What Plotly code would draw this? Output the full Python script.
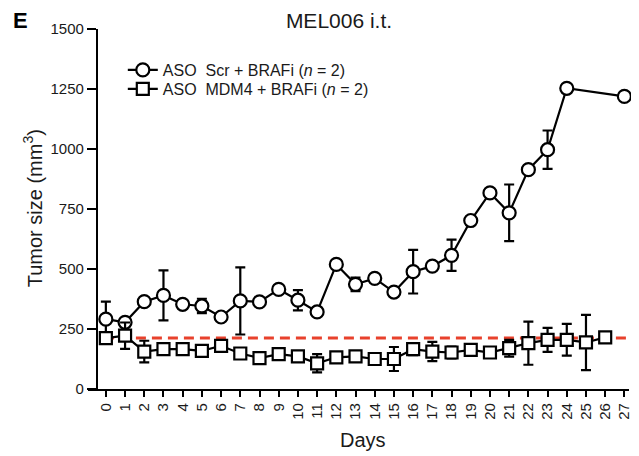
import plotly.graph_objects as go

# ---- data ----
scr_days = [0, 1, 2, 3, 4, 5, 6, 7, 8, 9, 10, 11, 12, 13, 14, 15, 16, 17, 18, 19, 20, 21, 22, 23, 24, 27]
scr_vals = [291, 278, 364, 390, 353, 346, 300, 367, 363, 415, 370, 321, 519, 436, 461, 404, 489, 512, 557, 702, 817, 734, 914, 997, 1253, 1219]
scr_err = [73, 0, 0, 104, 0, 30, 0, 140, 0, 0, 42, 0, 0, 28, 0, 0, 91, 0, 65, 0, 0, 118, 0, 80, 0, 0]

mdm4_days = list(range(0, 27))
mdm4_vals = [212, 222, 156, 166, 166, 159, 180, 148, 129, 145, 136, 107, 132, 136, 125, 125, 166, 156, 152, 163, 152, 170, 191, 205, 205, 194, 215]
mdm4_err = [10, 55, 45, 5, 5, 5, 20, 5, 5, 5, 20, 38, 15, 5, 15, 50, 25, 40, 25, 5, 15, 35, 90, 50, 66, 115, 5]

baseline = 212
x_ticks = list(range(0, 28))
y_ticks = [0, 250, 500, 750, 1000, 1250, 1500]

names = ["ASO\u00a0\u00a0Scr + BRAFi (<i>n</i> = 2)", "ASO\u00a0\u00a0MDM4 + BRAFi (<i>n</i> = 2)"]

FONT = "Liberation Sans, Arial, Helvetica, sans-serif"

# page body has an 8px margin; compensate so screen pixels match the reference
OFF = 8
W, H = 639 - OFF, 456 - OFF
L, R, T, B = 88 - OFF, 632 - OFF, 29 - OFF, 389 - OFF
pw, ph = R - L, B - T

def px_x(x):
    return (x - OFF - L) / pw

def px_y(y):
    return (B - (y - OFF)) / ph

fig = go.Figure()

fig.add_trace(go.Scatter(
    x=scr_days, y=scr_vals, name=names[0], mode="lines+markers", legend="legend",
    line=dict(color="black", width=2.2),
    marker=dict(symbol="circle", size=13, color="white", line=dict(color="black", width=2.2)),
    error_y=dict(type="data", array=scr_err, visible=True, color="black", thickness=2.2, width=5),
    cliponaxis=False,
))
fig.add_trace(go.Scatter(
    x=mdm4_days, y=mdm4_vals, name=names[1], mode="lines+markers", legend="legend2",
    line=dict(color="black", width=2.2),
    marker=dict(symbol="square", size=12, color="white", line=dict(color="black", width=2.2)),
    error_y=dict(type="data", array=mdm4_err, visible=True, color="black", thickness=2.2, width=5),
    cliponaxis=False,
))

# red dashed baseline
fig.add_shape(type="line", xref="paper", yref="y",
              x0=px_x(104), x1=px_x(639), y0=baseline, y1=baseline,
              line=dict(color="#e8412c", width=3, dash="10px,6px"), layer="below")

x_lo = -0.93
x_hi = 27.24

leg_common = dict(xanchor="left", yanchor="middle", bgcolor="rgba(0,0,0,0)",
                  font=dict(size=16, family=FONT, color="#1a1a1a"), itemwidth=30, borderwidth=0)

fig.update_layout(
    width=W, height=H,
    margin=dict(l=L, r=W - R, t=T, b=H - B, pad=0),
    paper_bgcolor="white", plot_bgcolor="white",
    font=dict(family=FONT, color="#1a1a1a", size=15),
    showlegend=True,
    legend=dict(x=px_x(123), y=px_y(70), **leg_common),
    legend2=dict(x=px_x(123), y=px_y(89), **leg_common),
    title=dict(text="MEL006 i.t.", x=(339 - OFF) / W, y=1 - (21 - OFF) / H, xanchor="center", yanchor="middle",
               xref="container", yref="container", font=dict(size=21, family=FONT, color="#1a1a1a")),
    xaxis=dict(range=[x_lo, x_hi], tickmode="array", tickvals=x_ticks, ticktext=[str(v) for v in x_ticks],
               tickangle=-90, showline=True, linecolor="black", linewidth=2.2,
               ticks="outside", ticklen=6, tickwidth=2.2, tickcolor="black",
               showgrid=False, zeroline=False, tickfont=dict(size=15, family=FONT, color="#1a1a1a")),
    yaxis=dict(range=[0, 1500], tickmode="array", tickvals=y_ticks, ticktext=[str(v) for v in y_ticks],
               anchor="free", position=px_x(97),
               showline=True, linecolor="black", linewidth=2.2,
               ticks="outside", ticklen=9, tickwidth=2.2, tickcolor="black",
               showgrid=False, zeroline=False, tickfont=dict(size=15, family=FONT, color="#1a1a1a")),
    annotations=[
        dict(text="<b>E</b>", x=px_x(20), y=px_y(20), xref="paper", yref="paper", showarrow=False,
             xanchor="center", yanchor="middle", font=dict(size=22, family=FONT, color="black")),
        dict(text="Tumor size (mm<sup>3</sup>)", x=px_x(32), y=px_y(208), xref="paper", yref="paper",
             showarrow=False, textangle=-90, xanchor="center", yanchor="middle",
             font=dict(size=20, family=FONT, color="#1a1a1a")),
        dict(text="Days", x=px_x(365), y=px_y(440), xref="paper", yref="paper", showarrow=False,
             xanchor="center", yanchor="middle", font=dict(size=20, family=FONT, color="#1a1a1a")),
    ],
)

fig.write_html("out.html")
